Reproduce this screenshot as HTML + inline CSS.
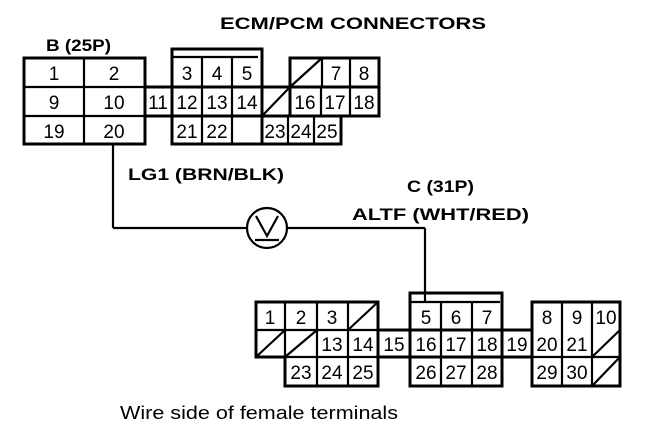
<!DOCTYPE html>
<html><head><meta charset="utf-8"><style>
html,body{margin:0;padding:0;background:#fff;}
svg{display:block;}
text{font-family:"Liberation Sans",Arial,sans-serif;fill:#000;}
.n{font-size:19px;text-anchor:middle;}
.b{font-weight:bold;font-size:17px;}
</style></head><body>
<svg width="672" height="442" viewBox="0 0 672 442" xmlns="http://www.w3.org/2000/svg">
<g fill="none" stroke="#000" stroke-width="2.2">
<rect x="24" y="58" width="121" height="86" stroke-width="3"/>
<line x1="24" y1="87" x2="145" y2="87"/><line x1="24" y1="116" x2="145" y2="116"/>
<line x1="84" y1="58" x2="84" y2="144"/>
<line x1="145" y1="87" x2="379" y2="87" stroke-width="3"/>
<line x1="145" y1="116" x2="379" y2="116" stroke-width="3"/>
<line x1="172" y1="58" x2="172" y2="144"/>
<rect x="172" y="49" width="90" height="95" stroke-width="3"/>
<line x1="172" y1="57" x2="258" y2="57"/>
<line x1="202" y1="57" x2="202" y2="144"/><line x1="232" y1="57" x2="232" y2="144"/>
<line x1="262" y1="116" x2="290" y2="87"/>
<rect x="290" y="58" width="89" height="58" stroke-width="3"/>
<line x1="290" y1="87" x2="322" y2="58"/>
<line x1="322" y1="58" x2="322" y2="87"/><line x1="321" y1="87" x2="321" y2="116"/>
<line x1="350" y1="58" x2="350" y2="116"/>
<rect x="262" y="116" width="79" height="28" stroke-width="3"/>
<line x1="288" y1="116" x2="288" y2="144"/><line x1="314" y1="116" x2="314" y2="144"/>
<line x1="113" y1="144" x2="113" y2="228"/>
<line x1="113" y1="228" x2="247" y2="228"/>
<circle cx="267" cy="228" r="20"/>
<line x1="287" y1="228" x2="425" y2="228"/>
<line x1="425" y1="228" x2="425" y2="302"/>
<polyline points="256,216 267,236 278,216"/>
<line x1="255" y1="240" x2="279" y2="240"/>
<polygon points="256,302 378,302 378,386 285,386 285,357 256,357" stroke-width="3"/>
<line x1="256" y1="330" x2="378" y2="330"/><line x1="285" y1="357" x2="378" y2="357"/>
<line x1="285" y1="302" x2="285" y2="386"/><line x1="317" y1="302" x2="317" y2="386"/><line x1="348" y1="302" x2="348" y2="386"/>
<line x1="348" y1="330" x2="378" y2="302"/>
<line x1="256" y1="357" x2="285" y2="330"/>
<line x1="285" y1="357" x2="317" y2="330"/>
<line x1="378" y1="330" x2="532" y2="330" stroke-width="3"/>
<line x1="378" y1="357" x2="532" y2="357" stroke-width="3"/>
<rect x="410" y="293" width="92" height="93" stroke-width="3"/>
<line x1="410" y1="302" x2="500" y2="302"/>
<line x1="441" y1="302" x2="441" y2="386"/><line x1="472" y1="302" x2="472" y2="386"/>
<rect x="532" y="302" width="88" height="84" stroke-width="3"/>
<line x1="532" y1="357" x2="620" y2="357"/>
<line x1="562" y1="302" x2="562" y2="386"/><line x1="592" y1="302" x2="592" y2="386"/>
<line x1="592" y1="357" x2="620" y2="330"/>
<line x1="592" y1="386" x2="620" y2="357"/>
</g>
<text class="b" x="220" y="29" textLength="266" lengthAdjust="spacingAndGlyphs">ECM/PCM CONNECTORS</text>
<text class="b" x="46" y="51" textLength="65" lengthAdjust="spacingAndGlyphs">B (25P)</text>
<text class="b" x="128" y="180" textLength="156" lengthAdjust="spacingAndGlyphs">LG1 (BRN/BLK)</text>
<text class="b" x="407" y="192" textLength="67" lengthAdjust="spacingAndGlyphs">C (31P)</text>
<text class="b" x="352" y="220" textLength="177" lengthAdjust="spacingAndGlyphs">ALTF (WHT/RED)</text>
<text x="120" y="419" style="font-size:18px" textLength="278" lengthAdjust="spacingAndGlyphs">Wire side of female terminals</text>
<g>
<text class="n" x="54" y="80">1</text><text class="n" x="114" y="80">2</text>
<text class="n" x="54" y="109">9</text><text class="n" x="114" y="109">10</text>
<text class="n" x="54" y="138">19</text><text class="n" x="114" y="138">20</text>
<text class="n" x="158" y="109">11</text>
<text class="n" x="187" y="80">3</text><text class="n" x="217" y="80">4</text><text class="n" x="247" y="80">5</text>
<text class="n" x="187" y="109">12</text><text class="n" x="217" y="109">13</text><text class="n" x="247" y="109">14</text>
<text class="n" x="187" y="138">21</text><text class="n" x="217" y="138">22</text>
<text class="n" x="336" y="80">7</text><text class="n" x="364" y="80">8</text>
<text class="n" x="305" y="109">16</text><text class="n" x="335" y="109">17</text><text class="n" x="364" y="109">18</text>
<text class="n" x="275" y="138">23</text><text class="n" x="301" y="138">24</text><text class="n" x="327" y="138">25</text>
<text class="n" x="270" y="324">1</text><text class="n" x="301" y="324">2</text><text class="n" x="332" y="324">3</text>
<text class="n" x="332" y="351">13</text><text class="n" x="363" y="351">14</text><text class="n" x="394" y="351">15</text>
<text class="n" x="301" y="379">23</text><text class="n" x="332" y="379">24</text><text class="n" x="363" y="379">25</text>
<text class="n" x="426" y="324">5</text><text class="n" x="456" y="324">6</text><text class="n" x="487" y="324">7</text>
<text class="n" x="426" y="351">16</text><text class="n" x="456" y="351">17</text><text class="n" x="487" y="351">18</text>
<text class="n" x="426" y="379">26</text><text class="n" x="456" y="379">27</text><text class="n" x="487" y="379">28</text>
<text class="n" x="517" y="351">19</text>
<text class="n" x="547" y="324">8</text><text class="n" x="577" y="324">9</text><text class="n" x="606" y="324">10</text>
<text class="n" x="547" y="351">20</text><text class="n" x="577" y="351">21</text>
<text class="n" x="547" y="379">29</text><text class="n" x="577" y="379">30</text>
</g>
</svg>
</body></html>
